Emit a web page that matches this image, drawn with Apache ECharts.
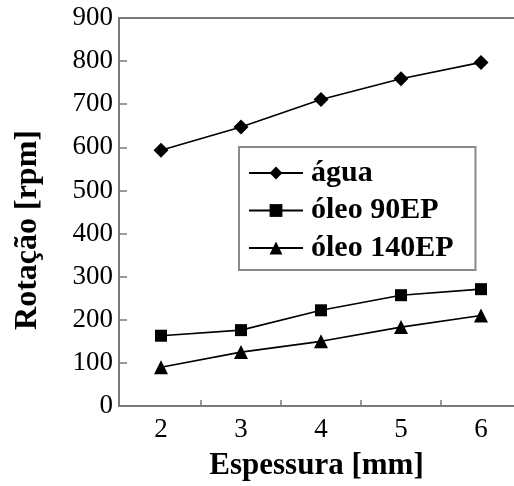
<!DOCTYPE html>
<html>
<head>
<meta charset="utf-8">
<script src="https://cdn.jsdelivr.net/npm/echarts@6/dist/echarts.min.js"></script>
<style>
html,body{margin:0;padding:0;background:#fff;}
#c{width:514px;height:486px;}
</style>
</head>
<body>
<div id="c"></div>
<script>
const espessura = [2, 3, 4, 5, 6];
const agua = [593, 647, 711, 759, 797];
const oleo90 = [163, 176, 222, 257, 271];
const oleo140 = [90, 125, 150, 183, 210];
const xTickLabels = [2, 3, 4, 5, 6];
const xMinorTicks = [2.5, 3.5, 4.5, 5.5];
const seriesNames = ['água', 'óleo 90EP', 'óleo 140EP'];

const serif = '"Liberation Serif", "Times New Roman", serif';
const axisGray = '#7a7a7a';

function pairs(vals) { return espessura.map((x, i) => [x, vals[i]]); }

const chart = echarts.init(document.getElementById('c'), null, {renderer: 'canvas'});
const lineStyle = {color: '#000', width: 1.6};
chart.setOption({
  animation: false,
  backgroundColor: '#fff',
  grid: {left: 119, top: 18, right: 0, bottom: 79, containLabel: false},
  legend: {
    orient: 'vertical',
    left: 239, top: 147,
    data: seriesNames,
    backgroundColor: '#fff',
    borderColor: '#8a8a8a', borderWidth: 2,
    padding: [11, 22, 7, 9],
    itemWidth: 54, itemHeight: 16, itemGap: 7.5,
    textStyle: {fontFamily: serif, fontWeight: 'bold', fontSize: 30, color: '#000', lineHeight: 30, padding: [0,0,0,3]}
  },
  xAxis: [{
    type: 'value', min: 1.475, max: 6.4125,
    axisLine: {show: true, lineStyle: {color: axisGray, width: 2}},
    axisTick: {show: true, inside: true, length: 6, customValues: xMinorTicks, lineStyle: {color: axisGray, width: 1.5}},
    axisLabel: {customValues: xTickLabels, fontFamily: serif, fontSize: 27, color: '#000', margin: 10},
    splitLine: {show: false},
    name: 'Espessura [mm]', nameLocation: 'middle', nameGap: 44,
    nameTextStyle: {fontFamily: serif, fontWeight: 'bold', fontSize: 31, color: '#000'}
  }, {
    type: 'value', position: 'top', min: 1.475, max: 6.4125,
    axisLine: {show: true, onZero: false, lineStyle: {color: axisGray, width: 2}},
    axisTick: {show: false}, axisLabel: {show: false}, splitLine: {show: false}
  }],
  yAxis: {
    type: 'value', min: 0, max: 900, interval: 100,
    axisLine: {show: true, lineStyle: {color: axisGray, width: 2}},
    axisTick: {show: true, inside: true, length: 8, lineStyle: {color: axisGray, width: 1.5}},
    axisLabel: {fontFamily: serif, fontSize: 27, color: '#000', margin: 6},
    splitLine: {show: false},
    name: 'Rotação [rpm]', nameLocation: 'middle', nameGap: 75,
    nameTextStyle: {fontFamily: serif, fontWeight: 'bold', fontSize: 32, color: '#000', padding: [0, 36, 0, 0]}
  },
  series: [
    {name: seriesNames[0], type: 'line', data: pairs(agua), symbol: 'diamond', symbolSize: 15,
     lineStyle: lineStyle, itemStyle: {color: '#000'}},
    {name: seriesNames[1], type: 'line', data: pairs(oleo90), symbol: 'rect', symbolSize: 12,
     lineStyle: lineStyle, itemStyle: {color: '#000'}},
    {name: seriesNames[2], type: 'line', data: pairs(oleo140), symbol: 'triangle', symbolSize: 14,
     lineStyle: lineStyle, itemStyle: {color: '#000'}}
  ]
});
</script>
</body>
</html>
